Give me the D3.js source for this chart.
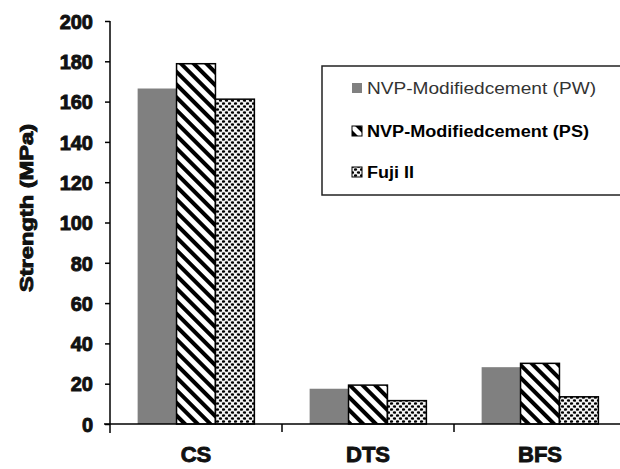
<!DOCTYPE html>
<html><head><meta charset="utf-8">
<script src="https://cdn.jsdelivr.net/npm/d3@7"></script>
<style>body{margin:0;background:#fff}svg{display:block}</style>
</head><body>
<svg id="c" width="620" height="469"></svg>
<script>
const categories = ["CS", "DTS", "BFS"];
const seriesNames = ["NVP-Modifiedcement (PW)", "NVP-Modifiedcement (PS)", "Fuji II"];
const pwValues = [166.5, 17.5, 28.2];
const psValues = [178.8, 19.3, 30.1];
const fujiValues = [161.2, 11.6, 13.5];
const yTicks = [0, 20, 40, 60, 80, 100, 120, 140, 160, 180, 200];

const svg = d3.select("#c");
const defs = svg.append("defs");
// diagonal stripes
const st = defs.append("pattern").attr("id","stripes").attr("patternUnits","userSpaceOnUse")
  .attr("width",9).attr("height",9).attr("patternTransform","rotate(-45)");
st.append("rect").attr("width",9).attr("height",9).attr("fill","#fff");
st.append("rect").attr("x",0).attr("y",0).attr("width",4).attr("height",9).attr("fill","#000");
// dots
const dt = defs.append("pattern").attr("id","dots").attr("patternUnits","userSpaceOnUse")
  .attr("width",6).attr("height",6);
dt.append("rect").attr("width",6).attr("height",6).attr("fill","#f2f2f2");
dt.append("ellipse").attr("cx",1.5).attr("cy",1.5).attr("rx",1.7).attr("ry",1.3).attr("fill","#000");
dt.append("ellipse").attr("cx",4.5).attr("cy",4.5).attr("rx",1.7).attr("ry",1.3).attr("fill","#000");

const fills = ["#808080", "url(#stripes)", "url(#dots)"];
const strokes = ["none", "#000", "#000"];

const y = d3.scaleLinear().domain([0,200]).range([424,21]);
const x0 = d3.scaleBand().domain(categories).range([110, 626]).padding(0);
const x1 = d3.scaleBand().domain(d3.range(3)).range([0, x0.bandwidth()]).paddingInner(0).paddingOuter(0.71);

const data = [pwValues, psValues, fujiValues];

// bars
categories.forEach((c, ci) => {
  data.forEach((vals, si) => {
    svg.append("rect")
      .attr("x", x0(c) + x1(si))
      .attr("y", y(vals[ci]))
      .attr("width", x1.bandwidth())
      .attr("height", y(0) - y(vals[ci]))
      .attr("fill", fills[si])
      .attr("stroke", strokes[si])
      .attr("stroke-width", 1.5);
  });
});

// y axis
const yAxis = d3.axisLeft(y).tickValues(yTicks).tickSize(5).tickPadding(12);
const gy = svg.append("g").attr("transform","translate(110,0)").call(yAxis);
gy.select(".domain").attr("d","M0,21V433").attr("stroke","#000").attr("stroke-width",1.5);
gy.selectAll(".tick line").attr("stroke","#000").attr("stroke-width",1.5);
gy.selectAll("text").attr("font-family","Liberation Sans, Arial, sans-serif")
  .attr("font-weight","bold").attr("font-size",20).attr("fill","#111")
  .attr("stroke","#111").attr("stroke-width",0.9).attr("dy","0.36em");

// x axis
const xAxis = d3.axisBottom(x0).tickSize(0).tickPadding(22);
const gx = svg.append("g").attr("transform","translate(0,424)").call(xAxis);
gx.select(".domain").attr("d","M104,0H626").attr("stroke","#000").attr("stroke-width",1.5);
gx.selectAll("text").attr("font-family","Liberation Sans, Arial, sans-serif")
  .attr("font-weight","bold").attr("font-size",22).attr("fill","#111")
  .attr("stroke","#111").attr("stroke-width",0.9);
// category separator ticks
categories.slice(1).forEach(c => {
  svg.append("line").attr("x1",x0(c)).attr("x2",x0(c)).attr("y1",424).attr("y2",432)
    .attr("stroke","#000").attr("stroke-width",1.5);
});

// y title
svg.append("text").attr("transform","translate(33,208) rotate(-90)")
  .attr("text-anchor","middle").attr("font-family","Liberation Sans, Arial, sans-serif")
  .attr("font-weight","bold").attr("font-size",18).attr("fill","#111")
  .attr("stroke","#111").attr("stroke-width",0.9)
  .attr("textLength",168).attr("lengthAdjust","spacingAndGlyphs")
  .text("Strength (MPa)");

// legend
const lg = svg.append("g");
lg.append("rect").attr("x",322).attr("y",66).attr("width",310).attr("height",129)
  .attr("fill","#fff").attr("stroke","#222").attr("stroke-width",1.5);
const rowY = [88, 131, 172];
const rowLen = [229, 222, 47];
seriesNames.forEach((n, i) => {
  lg.append("rect").attr("x",352).attr("y",rowY[i]-5).attr("width",10).attr("height",10)
    .attr("fill",fills[i]).attr("stroke",strokes[i]).attr("stroke-width",1);
  lg.append("text").attr("x",367).attr("y",rowY[i]).attr("dy","0.36em")
    .attr("font-family","Liberation Sans, Arial, sans-serif")
    .attr("font-size",16).attr("font-weight", i===0 ? "normal" : "bold")
    .attr("fill", i===0 ? "#333" : "#000")
    .attr("textLength", rowLen[i]).attr("lengthAdjust","spacingAndGlyphs")
    .text(n);
});
</script>
</body></html>
